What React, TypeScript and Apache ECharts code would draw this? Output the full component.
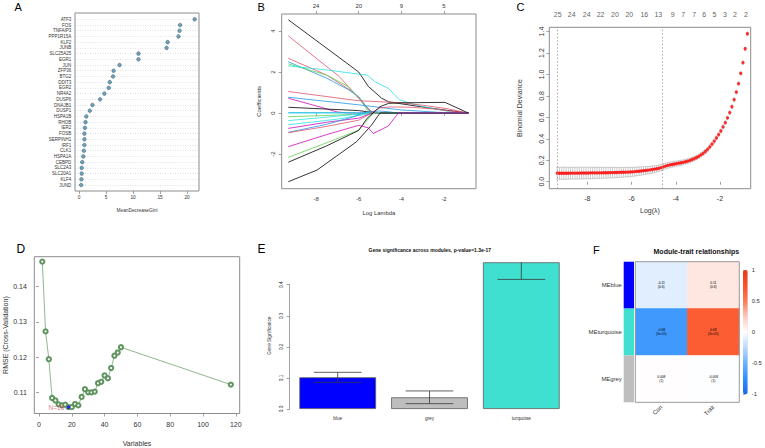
import React, { useEffect, useRef } from "react";
import * as echarts from "echarts";

const FONT = "'Liberation Sans', Arial, Helvetica, sans-serif";
const TXT = "#333333";
const BOX = "#8c8c8c";

// ---------- A: random forest importance ----------
const giniGenes = ["ATF3","FOS","TNFAIP3","PPP1R15A","KLF2","JUNB","SLC25A25","EGR1","JUN","ZFP36","BTG2","DDIT3","EGR2","NR4A2","DUSP6","DNAJB1","DUSP1","HSPA1B","RHOB","IER2","FOSB","SERPINH1","IRF1","CLK1","HSPA1A","CEBPD","SLC2A3","SLC20A1","KLF4","JUND"];
const giniValues = [21.4,18.7,18.6,18.4,16.4,16.2,11.0,11.0,7.5,6.4,6.3,5.7,5.5,4.7,3.9,2.5,2.0,1.35,1.2,1.1,1.0,1.0,1.0,0.9,0.8,0.6,0.5,0.5,0.45,0.4];
const giniTicks = [0,5,10,15,20];

// ---------- B: LASSO coefficient paths ----------
const lassoXTicks = [-8,-6,-4,-2];
const lassoTopLabels = ["24","20","9","5"];
const lassoYTicks = [-2,0,2,4];
const coefColors = ["#000000","#DF536B","#DF536B","#2297E6","#61D04F","#28E2E5","#DF536B","#2297E6","#CD0BBC","#000000","#2297E6","#28E2E5","#61D04F","#28E2E5","#28E2E5","#CD0BBC","#2297E6","#DF536B","#61D04F","#000000","#000000","#CD0BBC"];
const coefPaths = [
  [[-9.3,4.55],[-6.0,2.0],[-5.55,1.3],[-4.92,0.72],[-4.6,0.55],[-4.14,0.47],[-2.5,0.22],[-0.86,0]],
  [[-9.3,3.76],[-6.9,1.77],[-6.2,0.96],[-5.8,0.5],[-5.5,0.15],[-5.3,0],[-0.86,0]],
  [[-9.3,2.67],[-7.5,1.85],[-6.3,1.05],[-5.8,0.5],[-5.45,0.1],[-5.2,0],[-0.86,0]],
  [[-9.3,2.5],[-7.5,1.7],[-6.5,1.15],[-6.0,0.8],[-5.6,0.25],[-5.4,0],[-0.86,0]],
  [[-9.3,2.4],[-7.5,1.85],[-6.5,1.3],[-6.0,0.75],[-5.6,0.15],[-5.4,0],[-0.86,0]],
  [[-9.3,2.3],[-7.5,2.1],[-6.0,1.9],[-5.6,1.85],[-5.2,1.5],[-4.6,1.2],[-4.1,0.65],[-3.5,0.45],[-3.0,0.32],[-1.8,0.08],[-1.5,0],[-0.86,0]],
  [[-9.3,1.05],[-6.0,0.6],[-5.0,0.55],[-4.0,0.5],[-3.0,0.38],[-1.9,0.22],[-0.86,0]],
  [[-9.3,0.77],[-6.0,0.4],[-4.0,0.15],[-1.7,0],[-0.86,0]],
  [[-9.3,0.72],[-8.0,0.35],[-7.0,0.05],[-6.5,0],[-0.86,0]],
  [[-9.3,0.28],[-6.0,0.12],[-5.2,0],[-0.86,0]],
  [[-9.3,0.02],[-6.5,0.02],[-5.5,0],[-0.86,0]],
  [[-9.3,0],[-0.86,0]],
  [[-9.3,-0.18],[-7.0,-0.1],[-6.0,-0.05],[-5.5,0],[-0.86,0]],
  [[-9.3,-0.37],[-7.5,-0.2],[-6.0,-0.05],[-5.7,0],[-0.86,0]],
  [[-9.3,-0.57],[-7.0,-0.3],[-6.0,-0.12],[-5.2,0],[-0.86,0]],
  [[-9.3,-0.75],[-7.5,-0.45],[-6.0,-0.25],[-5.5,-0.05],[-5.3,0],[-0.86,0]],
  [[-9.3,-0.94],[-7.5,-0.55],[-6.3,-0.2],[-5.6,0.05],[-5.0,0.1],[-4.5,0.05],[-4.2,0],[-0.86,0]],
  [[-9.3,-0.96],[-7.5,-0.65],[-6.0,-0.35],[-5.5,-0.05],[-5.0,0.25],[-4.5,0.3],[-3.5,0.28],[-2.5,0.2],[-1.9,0.12],[-0.86,0]],
  [[-9.3,-2.16],[-7.5,-1.45],[-6.0,-0.83],[-5.6,-0.35],[-5.35,-0.05],[-5.2,0],[-0.86,0]],
  [[-9.3,-2.4],[-7.5,-1.6],[-6.0,-0.85],[-5.6,-0.25],[-5.0,0.31],[-4.6,0.47],[-4.0,0.5],[-1.95,0.52],[-0.86,0]],
  [[-9.3,-3.35],[-7.95,-2.78],[-6.1,-1.4],[-5.4,-0.59],[-5.0,0],[-0.86,0]],
  [[-9.3,-1.64],[-7.5,-1.05],[-6.0,-0.6],[-5.55,-0.72],[-5.32,-1.0],[-4.61,-0.63],[-4.14,0],[-0.86,0]],
];

// ---------- C: cross-validation ----------
const cvLogLambda = [-9.36,-9.26,-9.16,-9.06,-8.96,-8.86,-8.76,-8.66,-8.56,-8.46,-8.36,-8.26,-8.16,-8.06,-7.96,-7.86,-7.76,-7.66,-7.56,-7.46,-7.36,-7.26,-7.16,-7.06,-6.96,-6.86,-6.76,-6.66,-6.56,-6.46,-6.36,-6.26,-6.16,-6.06,-5.96,-5.86,-5.76,-5.66,-5.56,-5.46,-5.36,-5.26,-5.16,-5.06,-4.96,-4.86,-4.76,-4.66,-4.56,-4.46,-4.36,-4.26,-4.16,-4.06,-3.96,-3.86,-3.76,-3.66,-3.56,-3.46,-3.36,-3.26,-3.16,-3.06,-2.96,-2.86,-2.76,-2.66,-2.56,-2.46,-2.36,-2.26,-2.16,-2.06,-1.96,-1.86,-1.76,-1.66,-1.56,-1.46,-1.36,-1.26,-1.16,-1.06,-0.96,-0.86,-0.76];
const cvMean = [0.079,0.079,0.079,0.079,0.079,0.079,0.080,0.080,0.080,0.080,0.080,0.081,0.081,0.081,0.081,0.082,0.082,0.082,0.083,0.083,0.083,0.084,0.084,0.084,0.085,0.085,0.086,0.086,0.087,0.088,0.088,0.089,0.090,0.091,0.092,0.094,0.096,0.098,0.100,0.103,0.105,0.108,0.111,0.114,0.117,0.121,0.126,0.132,0.139,0.146,0.152,0.157,0.161,0.165,0.169,0.173,0.177,0.181,0.186,0.192,0.199,0.207,0.216,0.226,0.237,0.250,0.265,0.282,0.302,0.325,0.350,0.378,0.408,0.439,0.473,0.511,0.551,0.595,0.645,0.700,0.765,0.835,0.915,1.010,1.110,1.240,1.380];
const cvSd = [0.056,0.056,0.056,0.056,0.056,0.056,0.055,0.055,0.055,0.055,0.055,0.054,0.054,0.054,0.054,0.053,0.053,0.053,0.052,0.052,0.051,0.051,0.050,0.050,0.049,0.049,0.048,0.047,0.047,0.046,0.045,0.045,0.044,0.043,0.042,0.041,0.040,0.039,0.038,0.037,0.036,0.035,0.034,0.033,0.032,0.031,0.030,0.029,0.028,0.027,0.026,0.026,0.025,0.025,0.024,0.024,0.023,0.023,0.022,0.022,0.022,0.021,0.021,0.021,0.020,0.020,0.020,0.020,0.019,0.019,0.019,0.019,0.018,0.018,0.018,0.018,0.017,0.017,0.017,0.017,0.016,0.016,0.016,0.015,0.015,0.015,0.015];
const cvLambdaMin = -9.36;
const cvLambda1se = -4.61;
const nzeroPositions = [-9.34,-8.71,-8.03,-7.40,-6.75,-6.10,-5.42,-4.79,-4.14,-3.66,-3.16,-2.71,-2.25,-1.77,-1.32,-0.83];
const nzeroLabels = ["25","24","24","22","20","20","16","13","9","7","7","6","5","3","2","2"];
const cvXTicks = [-8,-6,-4,-2];
const cvYTicks = [0,0.2,0.4,0.6,0.8,1.0,1.2,1.4];
const cvYMax = 1.44;

// ---------- D: RFE ----------
const rfeVariables = [2,4,6,8,10,12,14,16,18,20,22,24,26,28,30,32,34,36,38,40,42,44,46,48,50,117];
const rfeRmse = [0.1471,0.1273,0.1194,0.1084,0.1077,0.1066,0.1063,0.1065,0.1058,0.1058,0.1067,0.1063,0.1087,0.1109,0.1100,0.1100,0.1102,0.1126,0.1130,0.1148,0.1140,0.1169,0.1204,0.1213,0.1228,0.1122];
const rfeXTicks = [0,20,40,60,80,100,120];
const rfeYTicks = [0.11,0.12,0.13,0.14];

// ---------- E: gene significance ----------
const moduleNames = ["blue","grey","turquoise"];
const moduleGS = [0.102,0.0376,0.472];
const moduleSE = [0.016,0.0205,0.055];
const moduleColors = ["#0000FF","#BEBEBE","#40E0D0"];
const eYMax = 0.472;

// ---------- F: module-trait ----------
const traitNames = ["Con","Trait"];
const meNames = ["MEblue","MEturquoise","MEgrey"];
const meColors = ["#0000FF","#40E0D0","#BEBEBE"];
const corrValues = [[-0.11,0.11],[-0.68,0.68],[0.008,-0.008]];
const pValues = [["0.6","0.6"],["3e-05","3e-05"],["1","1"]];
const heatStops = ["#1768f0","#2f8ffc","#6ab2fd","#b8d9fd","#ffffff","#fdc9bb","#fd7a55","#fd5226","#e8391c"];

const lab = (size: number, extra: any = {}) => ({ fontSize: size, color: TXT, fontFamily: FONT, ...extra });
const tick = (vals: number[] | null, len = 3) => ({
  show: true, length: len, lineStyle: { color: BOX, width: 0.8 }, ...(vals ? { customValues: vals } : {}),
});

export default function App() {
  const ref = useRef<HTMLDivElement>(null);
  useEffect(() => {
    document.body.style.margin = "0";
    if (!ref.current) return;
    const chart = echarts.init(ref.current, null, { renderer: "svg" });

    const bestIdx = rfeRmse.reduce((b, v, i) => (v < rfeRmse[b] ? i : b), 0);
    const cellText = corrValues.map((row, r) => row.map((c, k) => `${c}\n(${pValues[r][k]})`));

    const series: any[] = [];
    // A
    series.push({
      type: "scatter", xAxisIndex: 0, yAxisIndex: 0,
      data: giniGenes.map((g, i) => [giniValues[i], g]),
      symbolSize: 3.6,
      itemStyle: { color: "#4d8fae", borderColor: "#2a4a5a", borderWidth: 0.6 },
    });
    // B
    coefPaths.forEach((p, i) => {
      series.push({
        type: "line", xAxisIndex: 1, yAxisIndex: 1, data: p, symbol: "none", showSymbol: false,
        lineStyle: { color: coefColors[i], width: 0.8 },
      });
    });
    // C error bars
    series.push({
      type: "custom", xAxisIndex: 3, yAxisIndex: 2,
      data: cvLogLambda.map((x, i) => [x, cvMean[i] - cvSd[i], cvMean[i] + cvSd[i]]),
      encode: { x: 0, y: [1, 2] },
      renderItem: (_p: any, api: any) => {
        const x = api.value(0);
        const lo = api.coord([x, api.value(1)]);
        const hi = api.coord([x, api.value(2)]);
        const w = 1.1;
        const st = { stroke: "#a9a9a9", lineWidth: 0.6 };
        return {
          type: "group",
          children: [
            { type: "line", shape: { x1: lo[0], y1: lo[1], x2: hi[0], y2: hi[1] }, style: st },
            { type: "line", shape: { x1: lo[0] - w, y1: lo[1], x2: lo[0] + w, y2: lo[1] }, style: st },
            { type: "line", shape: { x1: hi[0] - w, y1: hi[1], x2: hi[0] + w, y2: hi[1] }, style: st },
          ],
        };
      },
      markLine: {
        silent: true, symbol: "none", label: { show: false },
        lineStyle: { color: "#9a9a9a", type: [1.5, 2], width: 0.8 },
        data: [{ xAxis: cvLambdaMin }, { xAxis: cvLambda1se }],
      },
    });
    series.push({
      type: "scatter", xAxisIndex: 3, yAxisIndex: 2,
      data: cvLogLambda.map((x, i) => [x, cvMean[i]]),
      symbolSize: 3.3, itemStyle: { color: "#ff0000" }, z: 3,
    });
    series.push({
      type: "scatter", xAxisIndex: 3, yAxisIndex: 2,
      data: nzeroPositions.map((x) => [x, cvYMax]),
      symbolSize: 0, itemStyle: { color: TXT },
      label: { show: true, position: "top", distance: 9, formatter: (p: any) => nzeroLabels[p.dataIndex],
        fontSize: 7, fontFamily: FONT, color: "#333333", textBorderWidth: 0 },
    });
    // D
    series.push({
      type: "line", xAxisIndex: 4, yAxisIndex: 3,
      data: rfeVariables.map((x, i) => [x, rfeRmse[i]]),
      symbol: "emptyCircle", symbolSize: 4.2,
      lineStyle: { color: "#5a9a5a", width: 0.7 },
      itemStyle: { color: "#5f945f", borderColor: "#5f945f", borderWidth: 0.5 },
    });
    series.push({
      type: "scatter", xAxisIndex: 4, yAxisIndex: 3,
      data: [[rfeVariables[bestIdx], rfeRmse[bestIdx]]],
      symbolSize: 3.4, itemStyle: { color: "#0000ff" }, z: 10,
      label: { show: true, position: "left", distance: 2.5, formatter: `N=${rfeVariables[bestIdx]}`, ...lab(6.5, { color: "#e0506a" }) },
    });
    // E
    series.push({
      type: "bar", xAxisIndex: 5, yAxisIndex: 4, barWidth: 76.7,
      data: moduleGS.map((v, i) => ({ value: v, itemStyle: { color: moduleColors[i] } })),
      itemStyle: { borderColor: "#5a5a5a", borderWidth: 0.8 },
    });
    series.push({
      type: "custom", xAxisIndex: 5, yAxisIndex: 4,
      data: moduleNames.map((_n, i) => [i, moduleGS[i], moduleSE[i]]),
      encode: { x: 0, y: 1 }, z: 5,
      renderItem: (_p: any, api: any) => {
        const i = api.value(0), m = api.value(1), se = api.value(2);
        const half = api.size([1, 0])[0] * 0.26;
        const lo = api.coord([i, m - se]);
        const clipped = m + se > eYMax;
        const hi = api.coord([i, Math.min(m + se, eYMax)]);
        const st = { stroke: "#3a3a3a", lineWidth: 0.8 };
        const ch: any[] = [
          { type: "line", shape: { x1: lo[0], y1: lo[1], x2: hi[0], y2: hi[1] }, style: st },
          { type: "line", shape: { x1: lo[0] - half, y1: lo[1], x2: lo[0] + half, y2: lo[1] }, style: st },
        ];
        if (!clipped) ch.push({ type: "line", shape: { x1: hi[0] - half, y1: hi[1], x2: hi[0] + half, y2: hi[1] }, style: st });
        return { type: "group", children: ch };
      },
    });
    // F side colours
    series.push({
      type: "bar", xAxisIndex: 7, yAxisIndex: 6, barCategoryGap: "0%",
      data: meColors.map((c) => ({ value: 1, itemStyle: { color: c } })),
    });
    const heatIdx = series.length;
    const heatData: any[] = [];
    corrValues.forEach((row, r) => row.forEach((v, c) => heatData.push([c, r, v])));
    series.push({
      type: "heatmap", xAxisIndex: 8, yAxisIndex: 7, data: heatData,
      label: {
        show: true, fontSize: 3.3, lineHeight: 4, color: "#000", fontFamily: FONT,
        formatter: (p: any) => cellText[p.data[1]][p.data[0]],
      },
    });

    const option: any = {
      animation: false,
      backgroundColor: "#ffffff",
      textStyle: { fontFamily: FONT },
      grid: [
        { left: 75, top: 19.3, width: 124, height: 165.7 },
        { left: 281.7, top: 14, width: 194.3, height: 174.7, show: true, borderColor: BOX, borderWidth: 1 },
        { left: 549.3, top: 27.3, width: 201.4, height: 161.4, show: true, borderColor: BOX, borderWidth: 1 },
        { left: 34.3, top: 256.7, width: 205.4, height: 157.3, show: true, borderColor: BOX, borderWidth: 1 },
        { left: 291.8, top: 262.3, width: 275.4, height: 146.7 },
        { left: 289.7, top: 284.7, width: 1, height: 124.3 },
        { left: 623.7, top: 261.7, width: 10.3, height: 140.6 },
        { left: 635.3, top: 261.7, width: 104, height: 140.6 },
        { left: 743, top: 270, width: 4.7, height: 124.3 },
      ],
      xAxis: [
        { gridIndex: 0, type: "value", min: -0.74, max: 22.2, offset: 6, axisLine: { show: false }, splitLine: { show: false },
          axisTick: tick(giniTicks), axisLabel: { ...lab(4.8), margin: 4, customValues: giniTicks },
          name: "MeanDecreaseGini", nameLocation: "middle", nameGap: 17, nameTextStyle: lab(4.8) },
        { gridIndex: 1, type: "value", min: -9.61, max: -0.5, axisLine: { show: false }, splitLine: { show: false },
          axisTick: tick(lassoXTicks), axisLabel: { ...lab(5.9), margin: 7, customValues: lassoXTicks },
          name: "Log Lambda", nameLocation: "middle", nameGap: 21, nameTextStyle: lab(5.9) },
        { gridIndex: 1, type: "value", position: "top", min: -9.61, max: -0.5, axisLine: { show: false }, splitLine: { show: false },
          axisTick: tick(lassoXTicks), axisLabel: { ...lab(5.9), margin: 5, customValues: lassoXTicks,
            formatter: (v: number) => { const k = lassoXTicks.indexOf(v); return k >= 0 ? lassoTopLabels[k] : ""; } } },
        { gridIndex: 2, type: "value", min: -9.72, max: -0.61, axisLine: { show: false }, splitLine: { show: false },
          axisTick: tick(cvXTicks), axisLabel: { ...lab(7), margin: 6.5, customValues: cvXTicks },
          name: "Log(λ)", nameLocation: "middle", nameGap: 18, nameTextStyle: lab(7) },
        { gridIndex: 3, type: "value", min: -2.87, max: 122.4, axisLine: { show: false }, splitLine: { show: false },
          axisTick: tick(rfeXTicks), axisLabel: { ...lab(7), margin: 7, customValues: rfeXTicks },
          name: "Variables", nameLocation: "middle", nameGap: 26.5, nameTextStyle: lab(7) },
        { gridIndex: 4, type: "category", data: moduleNames, axisLine: { show: false }, axisTick: { show: false },
          axisLabel: { ...lab(4.7), margin: 7 } },
        { gridIndex: 5, type: "value", show: false, min: 0, max: 1 },
        { gridIndex: 6, type: "value", show: false, min: 0, max: 1 },
        { gridIndex: 7, type: "category", data: traitNames, axisLine: { show: false }, axisTick: { show: false },
          axisLabel: { ...lab(5.9), rotate: 45, margin: 4 } },
        { gridIndex: 8, type: "value", show: false, min: 0, max: 1 },
      ],
      yAxis: [
        { gridIndex: 0, type: "category", data: giniGenes, inverse: true, boundaryGap: false,
          axisLine: { show: false }, axisTick: { show: false },
          axisLabel: { ...lab(4.5), margin: 3.7, interval: 0 },
          splitLine: { show: true, interval: 0, lineStyle: { color: "#cfcfcf", type: [1, 1.5], width: 0.6 } } },
        { gridIndex: 1, type: "value", min: -3.69, max: 4.83, axisLine: { show: false }, splitLine: { show: false },
          axisTick: tick(lassoYTicks), axisLabel: { ...lab(5.9), rotate: 90, margin: 6, customValues: lassoYTicks },
          name: "Coefficients", nameLocation: "middle", nameRotate: 90, nameGap: 20, nameTextStyle: lab(5.9) },
        { gridIndex: 2, type: "value", min: -0.065, max: cvYMax, axisLine: { show: false }, splitLine: { show: false },
          axisTick: tick(cvYTicks), axisLabel: { ...lab(7), rotate: 90, margin: 4.5, customValues: cvYTicks, formatter: (v: number) => v.toFixed(1) },
          name: "Binomial Deviance", nameLocation: "middle", nameRotate: 90, nameGap: 26, nameTextStyle: lab(7) },
        { gridIndex: 3, type: "value", min: 0.104, max: 0.1485, axisLine: { show: false }, splitLine: { show: false },
          axisTick: tick(rfeYTicks), axisLabel: { ...lab(7), margin: 7.5, customValues: rfeYTicks, formatter: (v: number) => v.toFixed(2) },
          name: "RMSE (Cross-Validation)", nameLocation: "middle", nameRotate: 90, nameGap: 17.5, nameTextStyle: lab(7) },
        { gridIndex: 4, type: "value", min: 0, max: eYMax, axisLine: { show: false }, axisTick: { show: false },
          axisLabel: { show: false }, splitLine: { show: false },
          name: "Gene Significance", nameLocation: "middle", nameRotate: 90, nameGap: 20, nameTextStyle: lab(4.7) },
        { gridIndex: 5, type: "value", min: 0, max: 0.4, interval: 0.1, splitLine: { show: false },
          axisLine: { show: true, lineStyle: { color: BOX, width: 0.8 } }, axisTick: tick(null),
          axisLabel: { ...lab(4.7), rotate: 90, margin: 6, formatter: (v: number) => v.toFixed(1) } },
        { gridIndex: 6, type: "category", data: meNames, inverse: true, axisLine: { show: false }, axisTick: { show: false },
          axisLabel: { ...lab(5.9), margin: 2 } },
        { gridIndex: 7, type: "category", data: meNames, inverse: true, show: false },
        { gridIndex: 8, type: "value", position: "right", min: -1, max: 1, interval: 0.5, splitLine: { show: false },
          axisLine: { show: false }, axisTick: tick(null, 2.5),
          axisLabel: { ...lab(5.9), margin: 4 } },
      ],
      visualMap: {
        type: "continuous", seriesIndex: heatIdx, min: -1, max: 1, calculable: false, orient: "vertical",
        left: 743, top: 270, itemWidth: 4.7, itemHeight: 124.3, padding: 0,
        inRange: { color: heatStops },
      },
      graphic: [
        { type: "rect", z: 100, shape: { x: 75, y: 13, width: 124, height: 178 }, style: { fill: "none", stroke: BOX, lineWidth: 1 } },
        { type: "rect", z: 100, shape: { x: 635.3, y: 261.7, width: 104, height: 140.6 }, style: { fill: "none", stroke: "#999", lineWidth: 1 } },
        { type: "text", x: 14.5, y: 1.5, style: { text: "A", font: `11px ${FONT}`, fill: "#000" } },
        { type: "text", x: 257.5, y: 1.5, style: { text: "B", font: `11px ${FONT}`, fill: "#000" } },
        { type: "text", x: 516.5, y: 1.5, style: { text: "C", font: `11px ${FONT}`, fill: "#000" } },
        { type: "text", x: 16.5, y: 243, style: { text: "D", font: `12px ${FONT}`, fill: "#000" } },
        { type: "text", x: 257.5, y: 243, style: { text: "E", font: `12px ${FONT}`, fill: "#000" } },
        { type: "text", x: 593, y: 244, style: { text: "F", font: `11px ${FONT}`, fill: "#000" } },
        { type: "text", x: 429.8, y: 250.3, style: { text: "Gene significance across modules, p-value=1.3e-17", font: `bold 5px ${FONT}`, fill: "#111", textAlign: "center", textVerticalAlign: "middle" } },
        { type: "text", x: 696.3, y: 251, style: { text: "Module-trait relationships", font: `bold 7px ${FONT}`, fill: "#111", textAlign: "center", textVerticalAlign: "middle" } },
      ],
      series,
    };
    chart.setOption(option);
    return () => chart.dispose();
  }, []);
  return <div ref={ref} style={{ position: "absolute", left: 0, top: 0, width: 765, height: 448 }} />;
}
